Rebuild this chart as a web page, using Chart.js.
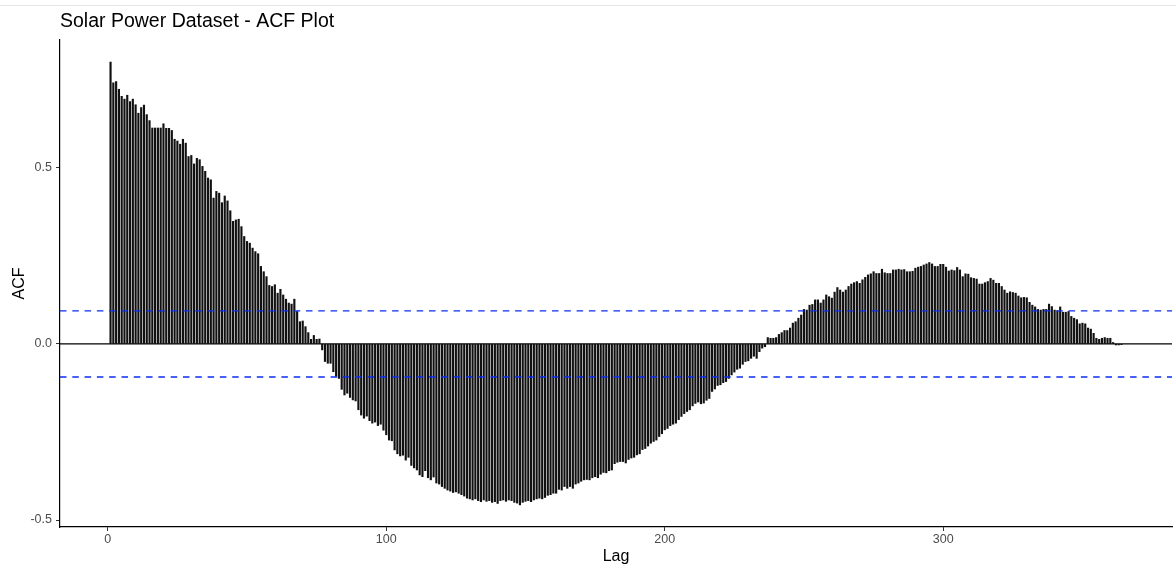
<!DOCTYPE html>
<html>
<head>
<meta charset="utf-8">
<script src="https://cdn.jsdelivr.net/npm/chart.js@4"></script>
<style>
  html, body { margin: 0; padding: 0; background: #ffffff; }
  #wrap { width: 1176px; height: 569px; position: relative; }
</style>
</head>
<body>
<div id="wrap"><canvas id="acfChart" width="1176" height="569"></canvas></div>
<script>
// ACF values, lag 1 onwards
var acfLag1to100 = [
  0.800, 0.741, 0.745, 0.723, 0.703, 0.695, 0.706, 0.688, 0.695, 0.679,
  0.655, 0.671, 0.678, 0.651, 0.634, 0.613, 0.613, 0.613, 0.613, 0.625,
  0.612, 0.612, 0.606, 0.581, 0.576, 0.567, 0.581, 0.570, 0.532, 0.535,
  0.511, 0.527, 0.523, 0.504, 0.490, 0.471, 0.466, 0.414, 0.433, 0.428,
  0.401, 0.420, 0.406, 0.378, 0.348, 0.352, 0.354, 0.333, 0.305, 0.291,
  0.286, 0.272, 0.262, 0.256, 0.220, 0.205, 0.191, 0.166, 0.163, 0.168,
  0.144, 0.155, 0.139, 0.127, 0.116, 0.113, 0.127, 0.092, 0.063, 0.065,
  0.049, 0.032, 0.013, 0.024, 0.013, 0.014, -0.017, -0.050, -0.055, -0.055,
  -0.079, -0.092, -0.098, -0.129, -0.145, -0.140, -0.152, -0.159, -0.162, -0.187,
  -0.202, -0.211, -0.205, -0.218, -0.225, -0.222, -0.232, -0.228, -0.245, -0.258
];
var acfLag101to200 = [
  -0.273, -0.275, -0.301, -0.312, -0.318, -0.316, -0.330, -0.322, -0.345, -0.352,
  -0.358, -0.372, -0.377, -0.360, -0.380, -0.386, -0.378, -0.395, -0.398, -0.405,
  -0.410, -0.415, -0.418, -0.422, -0.420, -0.424, -0.428, -0.432, -0.438, -0.440,
  -0.443, -0.440, -0.445, -0.448, -0.443, -0.447, -0.445, -0.450, -0.448, -0.453,
  -0.445, -0.443, -0.447, -0.443, -0.445, -0.450, -0.452, -0.457, -0.450, -0.447,
  -0.445, -0.448, -0.443, -0.440, -0.438, -0.440, -0.436, -0.430, -0.428, -0.424,
  -0.424, -0.413, -0.415, -0.405, -0.410, -0.405, -0.410, -0.398, -0.395, -0.390,
  -0.386, -0.385, -0.386, -0.380, -0.377, -0.380, -0.370, -0.365, -0.366, -0.360,
  -0.358, -0.340, -0.336, -0.334, -0.334, -0.338, -0.328, -0.324, -0.322, -0.315,
  -0.312, -0.300, -0.297, -0.290, -0.282, -0.277, -0.273, -0.263, -0.255, -0.244
];
var acfLag201to300 = [
  -0.240, -0.232, -0.228, -0.225, -0.215, -0.206, -0.198, -0.192, -0.187, -0.176,
  -0.169, -0.165, -0.170, -0.168, -0.160, -0.155, -0.135, -0.128, -0.118, -0.116,
  -0.110, -0.107, -0.098, -0.088, -0.080, -0.072, -0.069, -0.058, -0.050, -0.048,
  -0.041, -0.035, -0.041, -0.022, -0.012, -0.008, 0.018, 0.016, 0.016, 0.018,
  0.027, 0.032, 0.038, 0.038, 0.045, 0.059, 0.063, 0.073, 0.082, 0.098,
  0.096, 0.110, 0.112, 0.125, 0.125, 0.116, 0.125, 0.139, 0.134, 0.130,
  0.147, 0.160, 0.153, 0.147, 0.153, 0.163, 0.170, 0.174, 0.177, 0.172,
  0.182, 0.189, 0.196, 0.199, 0.205, 0.200, 0.200, 0.212, 0.202, 0.200,
  0.200, 0.210, 0.210, 0.212, 0.210, 0.211, 0.205, 0.205, 0.206, 0.215,
  0.218, 0.220, 0.224, 0.227, 0.231, 0.227, 0.220, 0.220, 0.226, 0.226
];
var acfLag301to364 = [
  0.218, 0.207, 0.210, 0.208, 0.217, 0.210, 0.191, 0.199, 0.198, 0.188,
  0.186, 0.184, 0.170, 0.170, 0.174, 0.177, 0.186, 0.181, 0.172, 0.172,
  0.163, 0.153, 0.144, 0.148, 0.146, 0.144, 0.136, 0.131, 0.132, 0.131,
  0.118, 0.110, 0.105, 0.098, 0.096, 0.098, 0.098, 0.113, 0.106, 0.096,
  0.094, 0.105, 0.090, 0.090, 0.092, 0.078, 0.073, 0.069, 0.057, 0.059,
  0.057, 0.045, 0.042, 0.030, 0.016, 0.013, 0.016, 0.018, 0.016, 0.016,
  0.004, -0.003, -0.003, -0.002
];
var confLimit = 0.0939;       // blue dashed significance bounds
var xTicks = [0, 100, 200, 300];
var yTicks = [-0.5, 0, 0.5];
var chartTitle = 'Solar Power Dataset - ACF Plot';
var xTitle = 'Lag';
var yTitle = 'ACF';

var acfValues = acfLag1to100.concat(acfLag101to200, acfLag201to300, acfLag301to364);
var points = acfValues.map(function(v, i) {
  return { x: i + 1, y: v };
});

// ggplot style 5% expansion of the axis limits
var xLo = 1, xHi = acfValues.length;
var xPad = (xHi - xLo) * 0.05;
var yLo = Math.min(Math.min.apply(null, acfValues), -confLimit);
var yHi = Math.max(Math.max.apply(null, acfValues), confLimit);
var yPad = (yHi - yLo) * 0.05;

var FONT = '"Liberation Sans", Arial, Helvetica, sans-serif';

// zero line + dashed confidence lines, drawn on top of the segments
var refLines = {
  id: 'refLines',
  beforeDraw: function(chart) {
    var ctx = chart.ctx;
    ctx.save();
    ctx.fillStyle = '#ffffff';
    ctx.fillRect(0, 0, chart.width, chart.height);
    ctx.strokeStyle = '#e6e6e6';
    ctx.lineWidth = 1;
    ctx.beginPath();
    ctx.moveTo(0, 5.5);
    ctx.lineTo(chart.width, 5.5);
    ctx.stroke();
    ctx.restore();
  },
  afterDatasetsDraw: function(chart) {
    var ctx = chart.ctx, area = chart.chartArea, ys = chart.scales.y;
    ctx.save();
    ctx.lineWidth = 1.2;
    ctx.strokeStyle = '#000000';
    var y0 = ys.getPixelForValue(0);
    ctx.beginPath();
    ctx.moveTo(area.left, y0);
    ctx.lineTo(area.right, y0);
    ctx.stroke();
    ctx.strokeStyle = '#0a2bff';
    ctx.lineWidth = 1.4;
    ctx.setLineDash([6.5, 5.8]);
    [confLimit, -confLimit].forEach(function(c) {
      var yp = ys.getPixelForValue(c);
      ctx.beginPath();
      ctx.moveTo(area.left, yp);
      ctx.lineTo(area.right, yp);
      ctx.stroke();
    });
    ctx.restore();
  }
};

var ctx = document.getElementById('acfChart').getContext('2d');
var acfChart = new Chart(ctx, {
  type: 'bar',
  data: {
    datasets: [{
      label: 'ACF',
      data: points,
      backgroundColor: '#111111',
      borderWidth: 0,
      barThickness: 1.5
    }]
  },
  options: {
    responsive: false,
    animation: false,
    layout: { padding: { left: 0, right: 4, top: 0, bottom: 0 } },
    plugins: {
      legend: { display: false },
      tooltip: { enabled: false },
      title: {
        display: true,
        text: chartTitle,
        align: 'start',
        fullSize: false,
        color: '#000000',
        font: { family: FONT, size: 19.5, weight: 'normal' },
        padding: { top: 10, bottom: 6.6 }
      }
    },
    scales: {
      x: {
        type: 'linear',
        min: xLo - xPad,
        max: xHi + xPad,
        offset: false,
        afterBuildTicks: function(scale) {
          scale.ticks = xTicks.map(function(v) { return { value: v }; });
        },
        afterFit: function(scale) { scale.height = 42; },
        grid: {
          offset: false,
          drawOnChartArea: false,
          drawTicks: true,
          tickLength: 4,
          tickColor: '#333333'
        },
        border: { display: true, color: '#000000', width: 1.2 },
        ticks: {
          color: '#4d4d4d',
          padding: 1.5,
          maxRotation: 0,
          font: { family: FONT, size: 12.5 },
          callback: function(v) { return String(v); }
        },
        title: {
          display: true,
          text: xTitle,
          color: '#000000',
          font: { family: FONT, size: 16 },
          padding: { top: 0, bottom: 2.5 }
        }
      },
      y: {
        type: 'linear',
        min: yLo - yPad,
        max: yHi + yPad,
        afterBuildTicks: function(scale) {
          scale.ticks = yTicks.map(function(v) { return { value: v }; });
        },
        afterFit: function(scale) { scale.width = 60; },
        grid: {
          drawOnChartArea: false,
          drawTicks: true,
          tickLength: 4,
          tickColor: '#333333'
        },
        border: { display: true, color: '#000000', width: 1.2 },
        ticks: {
          color: '#4d4d4d',
          padding: 4,
          font: { family: FONT, size: 12.5 },
          callback: function(v) { return Number(v).toFixed(1); }
        },
        title: {
          display: true,
          text: yTitle,
          color: '#000000',
          font: { family: FONT, size: 16 },
          padding: { top: 10, bottom: 0 }
        }
      }
    }
  },
  plugins: [refLines]
});
</script>
</body>
</html>
